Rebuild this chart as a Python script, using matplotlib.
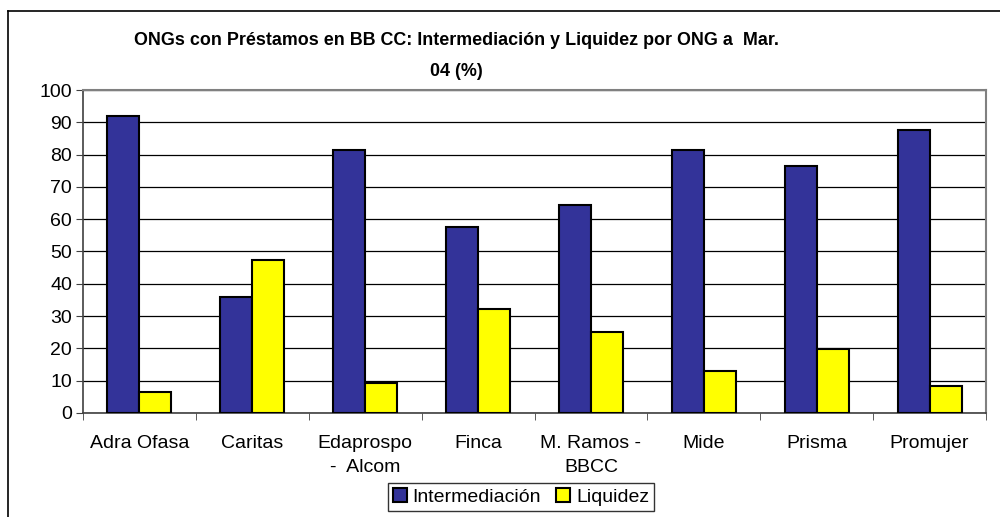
import numpy as np
import matplotlib.pyplot as plt
from matplotlib.lines import Line2D

plt.rcParams['font.family'] = ['Liberation Sans', 'DejaVu Sans']

# datos
categorias = ['Adra Ofasa', 'Caritas', 'Edaprospo\n-  Alcom', 'Finca',
              'M. Ramos -\nBBCC', 'Mide', 'Prisma', 'Promujer']
intermediacion = [92.0, 36.0, 81.3, 57.5, 64.5, 81.5, 76.5, 87.6]
liquidez = [6.6, 47.4, 9.2, 32.2, 25.0, 13.0, 19.7, 8.4]

fig = plt.figure(figsize=(10, 5.17), dpi=100)
ax = fig.add_axes([0.083, 0.2012, 0.903, 0.6247])

x = np.arange(len(categorias))
w = 0.283
ax.bar(x - w / 2, intermediacion, w, color='#333399', edgecolor='black',
       linewidth=1.5, label='Intermediación', zorder=3)
ax.bar(x + w / 2, liquidez, w, color='#FFFF00', edgecolor='black',
       linewidth=1.5, label='Liquidez', zorder=3)

ax.set_xlim(-0.5, len(categorias) - 0.5)
ax.set_ylim(0, 100)
ax.set_yticks(range(0, 101, 10))
ax.yaxis.grid(True, color='black', linewidth=0.9, zorder=0)

# etiquetas centradas, marcas entre categorias
ax.set_xticks(x)
ax.set_xticklabels(categorias, fontsize=14, linespacing=1.5)
ax.tick_params(axis='x', length=0, pad=16)
ax.set_xticks(np.arange(-0.5, len(categorias)), minor=True)
ax.tick_params(axis='x', which='minor', length=5, color='#404040', direction='out')
ax.tick_params(axis='y', labelsize=14, length=5, color='#404040', pad=3)

for s in ['top', 'right']:
    ax.spines[s].set_color('#808080')
    ax.spines[s].set_linewidth(1.5)
ax.spines['left'].set_color('#404040')
ax.spines['bottom'].set_color('#404040')
ax.spines['left'].set_linewidth(1.2)
ax.spines['bottom'].set_linewidth(1.2)

fig.text(0.456, 1 - 56 / 517, 'ONGs con Préstamos en BB CC: Intermediación y Liquidez por ONG a  Mar.\n04 (%)',
         ha='center', va='center', fontsize=12.9, fontweight='bold', linespacing=2.15)

leg = ax.legend(loc='center', bbox_to_anchor=(521 / 1000, 1 - 497 / 517),
                bbox_transform=fig.transFigure, ncol=2, fontsize=14,
                frameon=True, fancybox=False, handlelength=0.7, handleheight=0.7,
                handletextpad=0.3, columnspacing=0.8, borderpad=0.25,
                borderaxespad=0)
leg.get_frame().set_edgecolor('black')
leg.get_frame().set_linewidth(1.0)

# marco exterior del grafico
fig.add_artist(Line2D([8 / 1000, 8 / 1000], [0, 1 - 11 / 517], color='black', linewidth=1.2))
fig.add_artist(Line2D([8 / 1000, 1], [1 - 11 / 517, 1 - 11 / 517], color='black', linewidth=1.2))

plt.savefig('out.png', dpi=100)
